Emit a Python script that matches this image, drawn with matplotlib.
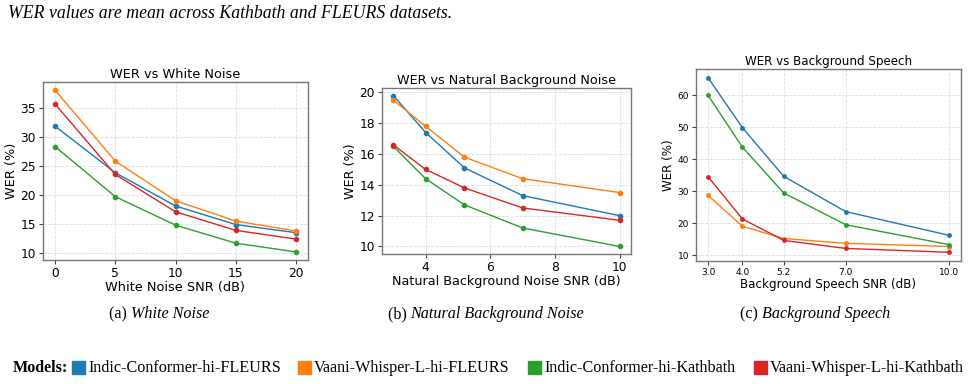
import matplotlib
matplotlib.use("Agg")
import matplotlib.pyplot as plt
import numpy as np

# data
models = ["Indic-Conformer-hi-FLEURS", "Vaani-Whisper-L-hi-FLEURS",
          "Indic-Conformer-hi-Kathbath", "Vaani-Whisper-L-hi-Kathbath"]
colors = ["#1f77b4", "#ff7f0e", "#2ca02c", "#d62728"]

white_snr = [0, 5, 10, 15, 20]
white_wer = [
    [31.8, 23.8, 18.1, 14.9, 13.5],
    [38.0, 25.8, 19.0, 15.5, 13.8],
    [28.3, 19.7, 14.8, 11.7, 10.2],
    [35.6, 23.5, 17.1, 13.9, 12.4],
]

natural_snr = [3, 4, 5.2, 7, 10]
natural_wer = [
    [19.8, 17.4, 15.1, 13.3, 12.0],
    [19.5, 17.8, 15.8, 14.4, 13.5],
    [16.5, 14.4, 12.7, 11.2, 10.0],
    [16.6, 15.0, 13.8, 12.5, 11.7],
]

speech_snr = [3.0, 4.0, 5.2, 7.0, 10.0]
speech_ticks = ["3.0", "4.0", "5.2", "7.0", "10.0"]
speech_wer = [
    [65.4, 49.8, 34.6, 23.6, 16.2],
    [28.7, 19.0, 15.2, 13.7, 12.7],
    [59.9, 43.7, 29.4, 19.5, 13.3],
    [34.5, 21.3, 14.6, 12.1, 10.9],
]

W, H = 969, 384
fig = plt.figure(figsize=(W / 100, H / 100), dpi=100)


def px_axes(l, t, r, b):
    return fig.add_axes([l / W, 1 - b / H, (r - l) / W, (b - t) / H])


def style(ax, title, xlabel, fsize, tsize):
    ax.set_title(title, fontsize=fsize, pad=3)
    ax.set_xlabel(xlabel, fontsize=fsize, labelpad=1)
    ax.set_ylabel("WER (%)", fontsize=fsize, labelpad=2)
    ax.tick_params(labelsize=tsize, length=3, pad=2, color="#444444")
    ax.grid(True, linestyle="--", color="#dddddd", linewidth=0.6)
    ax.set_axisbelow(True)
    for s in ax.spines.values():
        s.set_color("#777777")
        s.set_linewidth(1.0)


ax1 = px_axes(43, 82, 308, 260)
for i in range(4):
    ax1.plot(white_snr, white_wer[i], marker="o", ms=3, lw=1, color=colors[i])
style(ax1, "WER vs White Noise", "White Noise SNR (dB)", 9.3, 8.8)

ax2 = px_axes(382, 88, 631, 254)
for i in range(4):
    ax2.plot(natural_snr, natural_wer[i], marker="o", ms=3, lw=1, color=colors[i])
style(ax2, "WER vs Natural Background Noise", "Natural Background Noise SNR (dB)", 9.2, 8.8)

ax3 = px_axes(696, 69, 961, 261)
for i in range(4):
    ax3.plot(speech_snr, speech_wer[i], marker="o", ms=2.5, lw=1, color=colors[i])
ax3.set_xticks(speech_snr)
ax3.set_xticklabels(speech_ticks)
style(ax3, "WER vs Background Speech", "Background Speech SNR (dB)", 8.6, 6.5)

# paper caption pieces
serif = "Liberation Serif"
fig.text(8 / W, 1 - 13 / H, "WER values are mean across Kathbath and FLEURS datasets.",
         fontsize=12.8, family=serif, style="italic", va="center", ha="left")

renderer = fig.canvas.get_renderer()


def run_text(x, y, parts, size):
    # draw text pieces one after another, x in pixels
    for txt, kw in parts:
        t = fig.text(x / W, 1 - y / H, txt, fontsize=size, family=serif,
                     va="center", ha="left", **kw)
        x += t.get_window_extent(renderer).width
    return x


def centered(xc, y, parts, size):
    tmp = [fig.text(0, 0, txt, fontsize=size, family=serif, **kw) for txt, kw in parts]
    total = sum(t.get_window_extent(renderer).width for t in tmp)
    for t in tmp:
        t.remove()
    run_text(xc - total / 2, y, parts, size)


centered(159, 314, [("(a) ", {}), ("White Noise", {"style": "italic"})], 11.6)
centered(486, 314, [("(b) ", {}), ("Natural Background Noise", {"style": "italic"})], 11.6)
centered(815, 314, [("(c) ", {}), ("Background Speech", {"style": "italic"})], 11.6)

# legend row
leg_y = 368
run_text(13, leg_y, [("Models:", {"weight": "bold"})], 11.6)
sq_x = [72, 298, 528, 754]
for i in range(4):
    fig.patches.append(plt.Rectangle((sq_x[i] / W, 1 - (leg_y + 6) / H), 13 / W, 13 / H,
                                     transform=fig.transFigure, color=colors[i]))
    run_text(sq_x[i] + 16, leg_y, [(models[i], {})], 11.6)

fig.savefig("out.png", dpi=100)
